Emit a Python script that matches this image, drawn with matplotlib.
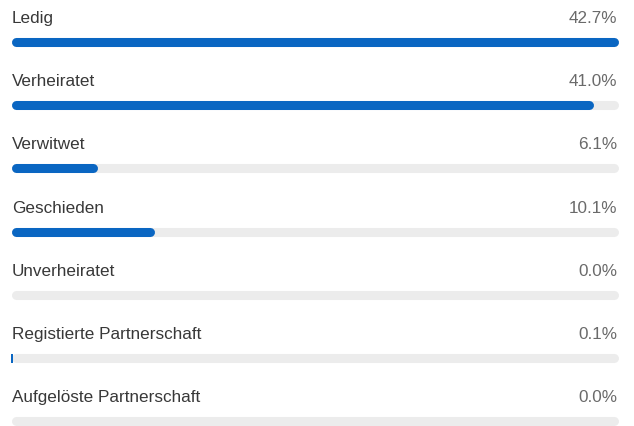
import matplotlib.pyplot as plt

# Familienstand, Anteil in Prozent
categories = ['Ledig', 'Verheiratet', 'Verwitwet', 'Geschieden', 'Unverheiratet',
              'Registierte Partnerschaft', 'Aufgelöste Partnerschaft']
shares = [42.7, 41.0, 6.1, 10.1, 0.0, 0.1, 0.0]
share_labels = ['42.7%', '41.0%', '6.1%', '10.1%', '0.0%', '0.1%', '0.0%']

BLUE = '#0a66c2'
TRACK = '#ececec'
LABEL = '#383838'
VALUE = '#6a6a6a'

plt.rcParams['font.family'] = ['Liberation Sans', 'DejaVu Sans']

W, H, DPI = 634, 427, 100
fig = plt.figure(figsize=(W / DPI, H / DPI), dpi=DPI)
ax = fig.add_axes([0, 0, 1, 1])

vmax = max(shares)
# x=0 at px 11, vmax at px 618; rows every 63.2 px starting at px 43
x0, x1 = 11, 618
scale = vmax / (x1 - x0)          # data units per pixel
ax.set_xlim(-x0 * scale, (W - x0) * scale)
row_h, first = 63.2, 43
ax.set_ylim((H - first) / row_h, -first / row_h)
ax.axis('off')

bar_lw = 6.5                       # points, ~9 px thick
r = 4.5 * scale                    # round cap radius in data units


def pill(y, v, color, z):
    # rounded bar covering [0, v]; caps add r on each side, so pull the ends in
    if v >= 2 * r:
        ax.plot([r, v - r], [y, y], color=color, lw=bar_lw, solid_capstyle='round', zorder=z)
    elif v > 0:
        ax.barh(y, max(v, 2 * scale), left=0, height=9 / row_h, color=color, zorder=z)


for i, (name, v, txt) in enumerate(zip(categories, shares, share_labels)):
    pill(i, vmax, TRACK, 1)
    pill(i, v, BLUE, 2)
    ty = i - 20 / row_h
    ax.text(1 * scale, ty, name, ha='left', va='baseline', fontsize=12.3, color=LABEL)
    ax.text(vmax - 1 * scale, ty, txt, ha='right', va='baseline', fontsize=12.3, color=VALUE)

fig.savefig('out.png', dpi=DPI)
